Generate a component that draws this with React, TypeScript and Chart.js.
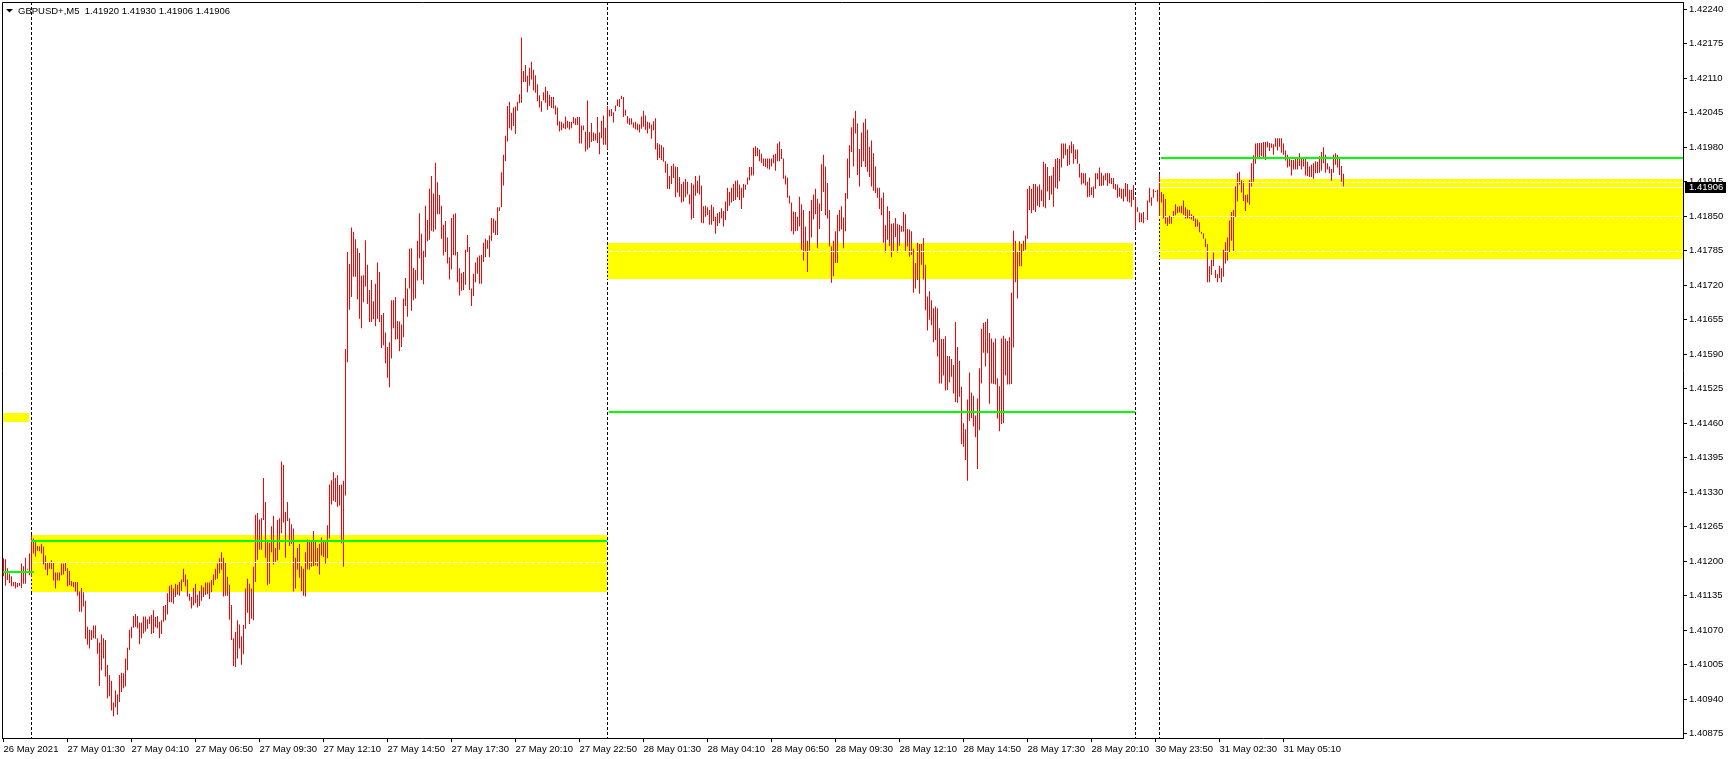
import { useEffect, useRef } from 'react';
import { Chart, registerables } from 'chart.js';

Chart.register(...registerables);

const SYMBOL_TITLE = 'GBPUSD+,M5  1.41920 1.41930 1.41906 1.41906';
const BID_PRICE = 1.41906;
const BID_TEXT = '1.41906';

// M5 bar highs / lows in 1e-5 (points)
const HIGH_PTS = [
  141206,141204,141187,141177,141172,141161,141161,141159,141159,141196,
  141191,141207,141186,141215,141249,141243,141238,141229,141228,141233,
  141228,141211,141198,141197,141202,141198,141179,141179,141179,141196,
  141196,141198,141187,141182,141163,141161,141161,141161,141143,141150,
  141142,141126,141077,141071,141070,141079,141079,141055,141047,141062,
  141055,141052,141005,140986,140975,140934,140957,140949,140986,140990,
  140989,141017,141037,141071,141077,141097,141101,141097,141085,141085,
  141096,141096,141091,141096,141099,141108,141095,141097,141086,141089,
  141116,141118,141140,141154,141156,141149,141158,141156,141161,141166,
  141186,141175,141166,141139,141133,141150,141158,141137,141144,141155,
  141151,141160,141160,141160,141165,141175,141186,141196,141206,141217,
  141207,141198,141171,141156,141118,141055,141067,141089,141081,141059,
  141080,141149,141167,141158,141149,141190,141288,141291,141279,141281,
  141357,141312,141239,141235,141266,141286,141225,141278,141281,141388,
  141382,141293,141312,141281,141270,141262,141207,141225,141233,141191,
  141186,141217,141241,141239,141239,141257,141238,141225,141233,141245,
  141238,141238,141268,141345,141353,141368,141357,141362,141344,141345,
  141352,141600,
  141783,141760,141829,141821,141807,141790,141781,141738,141739,141805,141759,141711,141730,141690,141723,141763,141745,141664,141668,
  141631,141604,141613,141692,141692,141698,141653,141652,141646,141695,141734,141714,141789,141790,141753,141749,141804,141856,141817,141785,
  141870,141843,141902,141926,141893,141951,141914,141890,141870,141834,141841,141810,141773,141847,141854,141856,141783,141752,141743,141745,
  141787,141815,141792,141714,141742,141763,141773,141776,141777,141800,141808,141805,141814,141847,141846,141842,141867,141867,141933,141966,
  142002,142058,142066,142045,142055,142057,142066,142080,142187,142124,142135,142115,142130,142141,142126,142116,142099,142078,142067,142084,
  142094,142086,142079,142075,142075,142059,142055,142029,142028,142025,142038,142030,142028,142028,142037,142035,142037,142037,142021,142021,
  142010,142068,142009,142026,142008,142006,142037,142008,142030,142040,142017,142058,
  142051,142052,142046,142059,142070,142071,142077,142075,142051,142039,142035,142035,142027,142028,142025,142023,142038,142049,
  142040,142028,142027,142023,142029,142035,141988,141986,141984,141980,141954,141949,141926,141945,141949,141944,141943,141924,141911,141915,
  141921,141915,141891,141913,141910,141926,141917,141927,141908,141869,141870,141867,141862,141872,141867,141849,141856,141858,141865,141860,
  141878,141904,141896,141904,141911,141917,141918,141910,141904,141911,141910,141923,141943,141943,141979,141982,141979,141976,141968,141959,
  141959,141959,141959,141959,141966,141968,141987,141991,141977,141959,141927,141923,141889,141876,141859,141858,141849,141887,141873,141862,
  141831,141804,141860,141881,141891,141902,141883,141874,141948,141966,141944,141913,141862,141793,141804,141822,141853,141862,141869,141848,
  141894,141959,141984,142018,142035,142049,142025,141977,142008,142027,142034,142013,141981,141993,141969,141944,141904,141904,141885,141895,
  141833,141869,141860,141836,141837,141847,141836,141834,141832,141858,141854,141826,141825,141822,141789,141762,141800,141798,141798,141809,
  141759,141699,141709,141692,141677,141680,141677,141639,141619,141619,141624,141587,141587,141581,141570,141651,141604,141578,141529,141460,
  141449,141505,141556,141518,141512,141475,141507,141564,141638,141649,141651,141657,141630,141620,141613,141620,141545,141530,141620,141625,
  141620,141615,141622,141706,141823,141804,141783,141803,141798,141804,141814,141902,141907,141902,141911,141911,141906,141910,141900,141953,
  141949,141943,141926,141927,141943,141958,141960,141958,141987,141987,141987,141977,141984,141991,141986,141976,141976,141949,141932,141931,
  141931,141915,141923,141905,141906,141931,141931,141942,141932,141927,141931,141932,141931,141922,141922,141911,141910,141904,141902,141902,
  141913,141911,141900,141900,141909,141885,141867,141857,141856,141858,141847,141880,141904,141886,141901,141898,141900,141929,141896,141892,
  141883,141848,141851,141849,141860,141873,141868,141869,141870,141880,141867,141863,141862,141854,141851,141846,141844,141839,141821,141818,
  141808,141798,141756,141768,141782,141749,141741,141757,141752,141787,141801,141810,141842,141858,141862,141906,141931,141934,141918,141916,
  141890,141891,141918,141950,141965,141987,141988,141988,141988,141990,141990,141991,141988,141987,141986,141997,141997,141997,141997,141987,
  141974,141966,141958,141956,141956,141961,141960,141969,141960,141959,141960,141953,141944,141947,141950,141954,141953,141963,141971,141980,
  141966,141950,141944,141939,141966,141969,141966,141958,141945,141930,
];

const LOW_PTS = [
  141172,141154,141165,141159,141153,141153,141149,141151,141154,141150,
  141158,141158,141184,141174,141171,141215,141209,141220,141219,141215,
  141194,141184,141174,141186,141185,141164,141149,141164,141164,141174,
  141175,141182,141153,141155,141153,141151,141143,141135,141105,141105,
  141115,141054,141043,141036,141052,141055,141054,141026,140965,140995,
  141017,140983,140942,140946,140919,140908,140925,140911,140935,140954,
  140961,140964,140995,141033,141055,141075,141077,141074,141044,141055,
  141064,141068,141073,141082,141063,141065,141076,141074,141055,141063,
  141086,141089,141100,141123,141123,141120,141133,141137,141135,141144,
  141161,141153,141134,141126,141111,141117,141121,141113,141116,141126,
  141133,141137,141138,141129,141142,141155,141165,141167,141177,141184,
  141134,141135,141135,141090,141052,141003,141001,141017,141036,141005,
  141025,141073,141103,141082,141092,141089,141161,141203,141222,141222,
  141278,141207,141155,141158,141217,141194,141199,141202,141222,141253,
  141273,141207,141276,141229,141233,141143,141149,141184,141169,141144,
  141135,141134,141185,141184,141190,141191,141192,141191,141175,141211,
  141208,141196,141206,141243,141307,141314,141312,141303,141305,141234,
  141190,141324,
  141575,141674,141698,141736,141736,141694,141657,141639,141688,141718,141685,141651,141651,141656,141643,141657,141651,141602,141607,
  141573,141546,141528,141582,141639,141618,141619,141596,141604,141622,141681,141661,141714,141672,141692,141695,141729,141771,141730,141722,
  141773,141803,141806,141823,141821,141825,141854,141854,141808,141776,141783,141761,141731,141750,141777,141776,141726,141701,141710,141711,
  141721,141783,141711,141681,141700,141726,141742,141723,141723,141764,141773,141789,141773,141804,141819,141815,141815,141860,141867,141908,
  141954,141991,142016,142012,142020,142005,142049,142063,142064,142103,142103,142084,142096,142108,142087,142083,142067,142055,142047,142068,
  142064,142051,142058,142054,142053,142042,142021,142010,142012,142016,142014,142017,142013,142016,142025,142022,142022,141987,141987,142012,
  141972,141976,141979,141990,141992,141993,141988,141967,141997,141985,141985,141976,
  142038,142039,142027,142048,142058,142056,142071,142037,142040,142025,142022,142023,142017,142014,142012,142008,142015,142019,
  142013,142006,142015,141996,142012,141976,141956,141960,141956,141953,141932,141902,141901,141911,141922,141886,141895,141887,141876,141878,
  141886,141891,141873,141844,141847,141889,141894,141891,141838,141837,141849,141852,141834,141834,141841,141817,141832,141837,141846,141831,
  141843,141860,141870,141876,141879,141881,141886,141881,141864,141885,141900,141910,141918,141927,141927,141963,141963,141954,141951,141945,
  141943,141940,141938,141944,141950,141936,141954,141954,141958,141921,141910,141885,141874,141822,141816,141822,141823,141831,141787,141767,
  141784,141745,141785,141810,141844,141854,141790,141826,141860,141896,141852,141846,141793,141725,141737,141762,141762,141822,141825,141790,
  141822,141883,141922,141971,141944,142006,141928,141906,141943,141954,141943,141934,141924,141906,141898,141894,141885,141864,141852,141800,
  141782,141806,141794,141773,141784,141811,141782,141794,141821,141821,141783,141793,141774,141777,141706,141714,141730,141704,141759,141731,
  141673,141635,141655,141645,141613,141617,141586,141535,141535,141550,141522,141523,141537,141548,141516,141500,141499,141510,141421,141416,
  141391,141352,141465,141470,141454,141434,141374,141447,141535,141593,141567,141592,141497,141535,141534,141533,141469,141445,141459,141460,
  141550,141533,141533,141534,141603,141726,141695,141756,141756,141784,141787,141808,141862,141856,141862,141858,141870,141867,141879,141868,
  141865,141897,141881,141891,141868,141904,141902,141916,141942,141959,141965,141945,141947,141969,141949,141958,141949,141923,141910,141912,
  141908,141886,141887,141890,141885,141902,141920,141907,141907,141908,141918,141907,141912,141911,141902,141900,141885,141887,141883,141878,
  141887,141878,141876,141868,141881,141826,141858,141839,141839,141837,141846,141843,141876,141870,141885,141896,141878,141849,141876,141846,
  141836,141832,141836,141836,141848,141852,141856,141857,141856,141853,141846,141846,141846,141844,141841,141830,141831,141820,141817,141808,
  141792,141726,141726,141740,141756,141734,141726,141734,141726,141736,141761,141767,141783,141804,141783,141849,141878,141910,141895,141879,
  141860,141876,141872,141906,141915,141949,141961,141960,141963,141961,141956,141980,141973,141979,141966,141981,141974,141981,141970,141966,
  141955,141942,141944,141927,141938,141938,141938,141945,141938,141944,141927,141926,141924,141924,141921,141931,141931,141932,141936,141950,
  141932,141938,141931,141917,141932,141947,141942,141928,141915,141906,
];

// time axis: bar index of each label (every 32 bars of M5 = 2h40m)
const X_TICK_BARS = [0, 32, 64, 96, 128, 160, 192, 224, 256, 288, 320, 352, 384, 416, 448, 480, 512, 544, 576, 608, 640];
const X_TICK_LABELS = [
  '26 May 2021', '27 May 01:30', '27 May 04:10', '27 May 06:50', '27 May 09:30', '27 May 12:10',
  '27 May 14:50', '27 May 17:30', '27 May 20:10', '27 May 22:50', '28 May 01:30', '28 May 04:10',
  '28 May 06:50', '28 May 09:30', '28 May 12:10', '28 May 14:50', '28 May 17:30', '28 May 20:10',
  '30 May 23:50', '31 May 02:30', '31 May 05:10',
];
const PRICE_TICKS = [
  1.40875, 1.40940, 1.41005, 1.41070, 1.41135, 1.41200, 1.41265, 1.41330, 1.41395, 1.41460, 1.41525,
  1.41590, 1.41655, 1.41720, 1.41785, 1.41850, 1.41915, 1.41980, 1.42045, 1.42110, 1.42175, 1.42240,
];

// day separators (bar index of first bar of the day)
const SEPARATOR_BARS = [14, 302, 566, 578];

// yellow zones
const ZONE_FROM = [-2, 14, 302, 578];
const ZONE_TO = [13, 302, 565, 900];
const ZONE_TOP = [1.41479, 1.41250, 1.41800, 1.41920];
const ZONE_BOTTOM = [1.41462, 1.41143, 1.41732, 1.41770];
const ZONE_EDGE = [false, true, true, true];

// green levels
const GREEN_FROM = [-1, 14, 303, 579];
const GREEN_TO = [15.5, 302, 566, 900];
const GREEN_PRICE = [1.41179, 1.41239, 1.41481, 1.41960];

// white dashed levels
const DASH_FROM = [15, 303, 578, 578, 578];
const DASH_TO = [302, 565, 900, 900, 900];
const DASH_PRICE = [1.41199, 1.41784, 1.41914, 1.41850, 1.41784];

const FONT = '"Liberation Sans", Arial, sans-serif';

const overlayPlugin = {
  id: 'mt4Overlay',
  beforeDatasetsDraw(chart: any) {
    const { ctx, chartArea: a, scales } = chart;
    const x = scales.x;
    const y = scales.y;
    const colLeft = (i: number) => x.getPixelForValue(i) - 0.5;
    ctx.save();
    ctx.beginPath();
    ctx.rect(a.left, a.top, a.right - a.left, a.bottom - a.top);
    ctx.clip();
    // separators
    ctx.strokeStyle = '#000000';
    ctx.lineWidth = 1;
    ctx.setLineDash([3, 2]);
    SEPARATOR_BARS.forEach((b) => {
      const px = Math.round(colLeft(b)) + 0.5;
      ctx.beginPath();
      ctx.moveTo(px, a.top);
      ctx.lineTo(px, a.bottom);
      ctx.stroke();
    });
    ctx.setLineDash([]);
    // zones
    ctx.fillStyle = '#ffff00';
    ZONE_FROM.forEach((f, k) => {
      const x1 = Math.max(a.left, Math.round(colLeft(f)));
      const x2 = Math.min(a.right, Math.round(colLeft(ZONE_TO[k])));
      const y1 = Math.round(y.getPixelForValue(ZONE_TOP[k]));
      const y2 = Math.round(y.getPixelForValue(ZONE_BOTTOM[k]));
      ctx.fillRect(x1, y1, x2 - x1, y2 - y1);
    });
    // zone left edges
    ctx.strokeStyle = '#0000ff';
    ctx.setLineDash([2, 2]);
    ZONE_FROM.forEach((f, k) => {
      if (!ZONE_EDGE[k]) return;
      const px = Math.round(colLeft(f)) + 0.5;
      ctx.beginPath();
      ctx.moveTo(px, Math.round(y.getPixelForValue(ZONE_TOP[k])));
      ctx.lineTo(px, Math.round(y.getPixelForValue(ZONE_BOTTOM[k])));
      ctx.stroke();
    });
    ctx.setLineDash([]);
    // bid line
    ctx.strokeStyle = '#ffffff';
    const by = Math.round(y.getPixelForValue(BID_PRICE)) + 0.5;
    ctx.beginPath();
    ctx.moveTo(a.left, by);
    ctx.lineTo(a.right, by);
    ctx.stroke();
    ctx.restore();
  },
  afterDatasetsDraw(chart: any) {
    const { ctx, chartArea: a, scales } = chart;
    const x = scales.x;
    const y = scales.y;
    const colLeft = (i: number) => x.getPixelForValue(i) - 0.5;
    ctx.save();
    ctx.beginPath();
    ctx.rect(a.left, a.top, a.right - a.left, a.bottom - a.top);
    ctx.clip();
    ctx.fillStyle = '#00ff00';
    GREEN_FROM.forEach((f, k) => {
      const x1 = Math.max(a.left, Math.round(colLeft(f)));
      const x2 = Math.min(a.right, Math.round(colLeft(GREEN_TO[k])));
      const gy = Math.round(y.getPixelForValue(GREEN_PRICE[k]));
      ctx.fillRect(x1, gy - 1, x2 - x1, 2);
    });
    ctx.strokeStyle = '#ffffff';
    ctx.lineWidth = 1;
    ctx.setLineDash([4, 2]);
    DASH_FROM.forEach((f, k) => {
      const x1 = Math.max(a.left, Math.round(colLeft(f)));
      const x2 = Math.min(a.right, Math.round(colLeft(DASH_TO[k])));
      const dy = Math.round(y.getPixelForValue(DASH_PRICE[k])) + 0.5;
      ctx.beginPath();
      ctx.moveTo(x1, dy);
      ctx.lineTo(x2, dy);
      ctx.stroke();
    });
    ctx.restore();
  },
  afterDraw(chart: any) {
    const { ctx, chartArea: a, scales } = chart;
    const y = scales.y;
    ctx.save();
    // frame
    ctx.strokeStyle = '#000000';
    ctx.lineWidth = 1;
    ctx.beginPath();
    ctx.moveTo(a.left + 0.5, a.bottom);
    ctx.lineTo(a.left + 0.5, a.top + 0.5);
    ctx.lineTo(a.right, a.top + 0.5);
    ctx.stroke();
    // title
    ctx.fillStyle = '#000000';
    ctx.beginPath();
    ctx.moveTo(6, 9);
    ctx.lineTo(13, 9);
    ctx.lineTo(9.5, 12.5);
    ctx.closePath();
    ctx.fill();
    ctx.font = `9.5px ${FONT}`;
    ctx.textBaseline = 'middle';
    ctx.textAlign = 'left';
    ctx.fillText(SYMBOL_TITLE, 18, 11);
    // bid label
    const by = Math.round(y.getPixelForValue(BID_PRICE));
    ctx.fillStyle = '#000000';
    ctx.fillRect(a.right + 2, by - 5, 41, 11);
    ctx.fillStyle = '#ffffff';
    ctx.fillText(BID_TEXT, a.right + 6, by + 0.5);
    ctx.restore();
  },
};

export default function App() {
  const ref = useRef<HTMLCanvasElement | null>(null);
  useEffect(() => {
    document.body.style.margin = '0';
    document.body.style.overflow = 'hidden';
    const canvas = ref.current;
    if (!canvas) return;
    const n = Math.min(HIGH_PTS.length, LOW_PTS.length);
    const bars = [] as any[];
    for (let i = 0; i < n; i++) {
      bars.push({ x: i, y: [LOW_PTS[i] / 100000, HIGH_PTS[i] / 100000] });
    }
    const chart = new Chart(canvas, {
      type: 'bar',
      data: {
        datasets: [
          {
            data: bars,
            backgroundColor: '#ff0000',
            borderWidth: 0,
            barThickness: 1,
            grouped: false,
            inflateAmount: 0,
          } as any,
        ],
      },
      options: {
        animation: false,
        responsive: false,
        events: [],
        layout: { padding: { left: 2, top: 2, right: 0, bottom: 0 } },
        plugins: { legend: { display: false }, tooltip: { enabled: false } },
        scales: {
          x: {
            type: 'linear',
            position: 'bottom',
            min: -0.75,
            max: 839.75,
            bounds: 'data',
            offset: false,
            grid: { display: true, drawOnChartArea: false, drawTicks: true, tickLength: 4, color: '#000000', offset: false },
            border: { display: true, color: '#000000' },
            ticks: {
              autoSkip: false,
              maxRotation: 0,
              minRotation: 0,
              align: 'start',
              padding: 2,
              color: '#000000',
              font: { family: FONT, size: 9.5 },
              callback: (_v: any, i: number) => X_TICK_LABELS[i] ?? '',
            },
            afterBuildTicks: (s: any) => {
              s.ticks = X_TICK_BARS.map((v) => ({ value: v }));
            },
            afterFit: (s: any) => {
              s.height = 21;
              s.paddingLeft = 0;
              s.paddingRight = 0;
            },
          } as any,
          y: {
            type: 'linear',
            position: 'right',
            min: 1.408672,
            max: 1.422538,
            bounds: 'data',
            beginAtZero: false,
            grid: { display: true, drawOnChartArea: false, drawTicks: true, tickLength: 4, color: '#000000' },
            border: { display: true, color: '#000000' },
            ticks: {
              autoSkip: false,
              padding: 2,
              color: '#000000',
              font: { family: FONT, size: 9.5 },
              callback: (v: any) => Number(v).toFixed(5),
            },
            afterBuildTicks: (s: any) => {
              s.ticks = PRICE_TICKS.map((v) => ({ value: v }));
            },
            afterFit: (s: any) => {
              s.width = 46;
              s.paddingTop = 0;
              s.paddingBottom = 0;
            },
          } as any,
        },
      },
      plugins: [overlayPlugin],
    });
    return () => chart.destroy();
  }, []);
  return (
    <div style={{ width: 1729, height: 759 }}>
      <canvas ref={ref} width={1729} height={759} style={{ display: 'block' }} />
    </div>
  );
}
